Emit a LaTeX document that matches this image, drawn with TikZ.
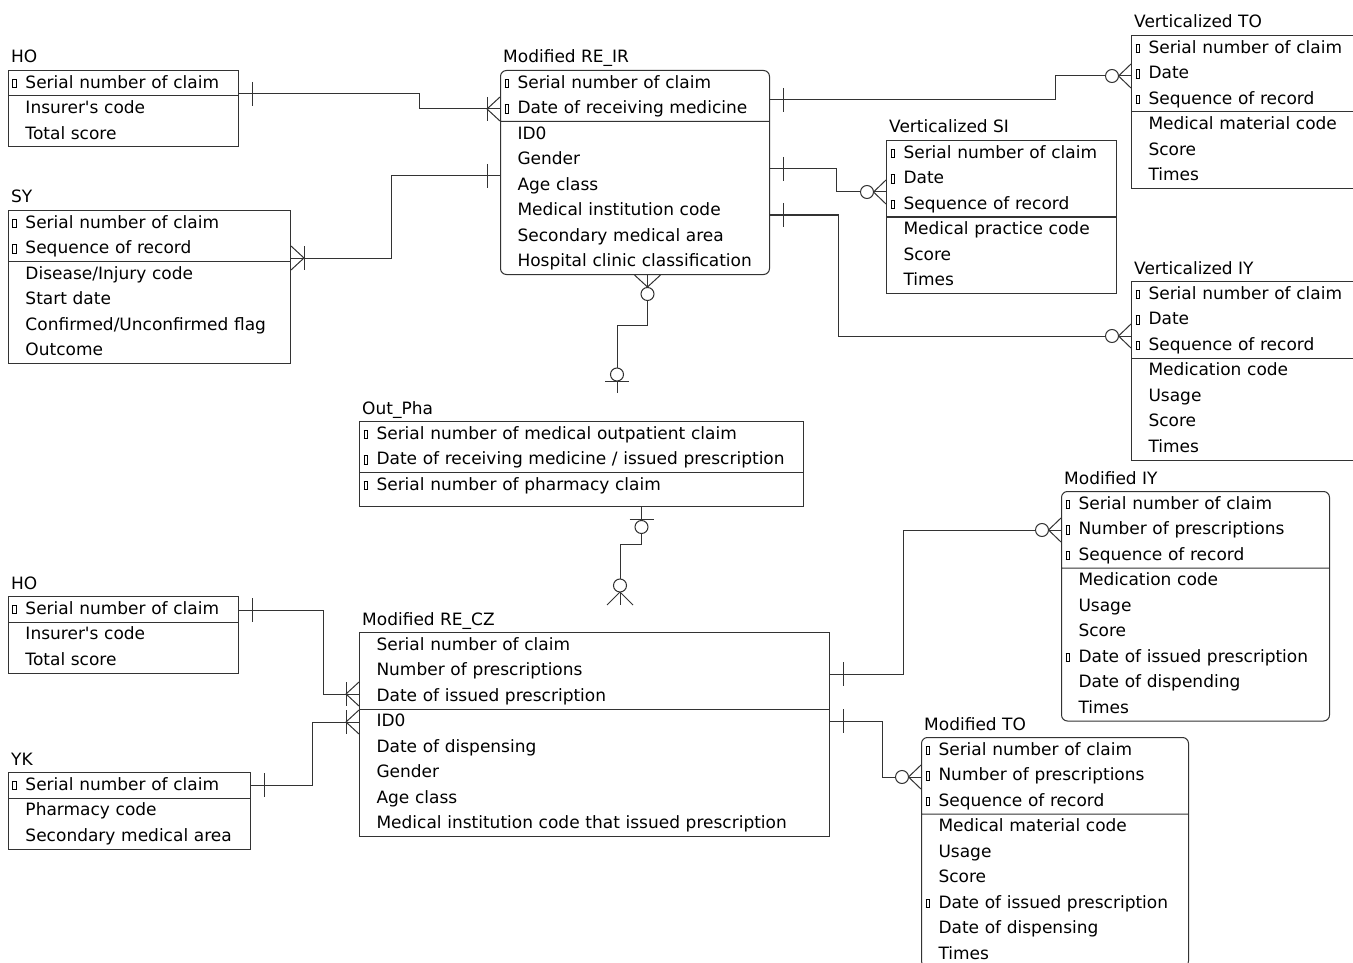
\documentclass[tikz,border=0pt]{standalone}
\usepackage{fontspec}
\setmainfont{DejaVu Sans}[Ligatures=TeXOff]
\usepackage{tikz}
\usetikzlibrary{calc,shapes.multipart}
\newcommand{\linecolor}{black!80}
\newcommand{\barhalf}{12}
\newcommand{\bargap}{13}
\newcommand{\ringsize}{6.5pt}
\newcommand{\entfont}{\fontsize{17}{25.5}\selectfont}
\newcommand{\keybox}{\raisebox{1pt}{\setlength{\fboxsep}{0pt}\setlength{\fboxrule}{0.6pt}\fbox{\rule{0pt}{8pt}\rule{3pt}{0pt}}}}
\newcommand{\pkey}{\strut\makebox[17pt][l]{\hspace*{4pt}\keybox}}
\newcommand{\attr}{\strut\makebox[17pt]{}}
\tikzset{
  entity/.style={draw=\linecolor, line width=1pt, rectangle split, rectangle split parts=2,
    inner xsep=0pt, inner ysep=-0.5pt, anchor=north west, text width=#1, align=left, font=\entfont},
  rentity/.style={entity=#1, rounded corners=6pt},
  title/.style={anchor=base west, inner sep=0pt, font=\entfont},
  conn/.style={draw=\linecolor, line width=1pt}
}

\begin{document}
\begin{tikzpicture}[x=1pt, y=-1pt]
\useasboundingbox (0,0) rectangle (1353,963);
%top half
\node[entity=230pt] (hoA) at (8,70) {\pkey Serial number of claim
  \nodepart{two}\attr Insurer's code\\ \attr Total score};
\node[title] (hoAt) at (11,63) {HO};
\node[entity=282pt] (sy) at (8,210) {\pkey Serial number of claim\\ \pkey Sequence of record
  \nodepart{two}\attr Disease/Injury code\\ \attr Start date\\ \attr Confirmed/Unconfirmed flag\\ \attr Outcome};
\node[title] (syt) at (11,203) {SY};
\node[rentity=269pt] (reir) at (500,70) {\pkey Serial number of claim\\ \pkey Date of receiving medicine
  \nodepart{two}\attr ID0\\ \attr Gender\\ \attr Age class\\ \attr Medical institution code\\ \attr Secondary medical area\\ \attr Hospital clinic classification};
\node[title] (reirt) at (503,63) {Modified RE\_IR};
\node[entity=240pt] (vto) at (1131,35) {\pkey Serial number of claim\\ \pkey Date\\ \pkey Sequence of record
  \nodepart{two}\attr Medical material code\\ \attr Score\\ \attr Times};
\node[title] (vtot) at (1134,28) {Verticalized TO};
\node[entity=230pt] (vsi) at (886,140) {\pkey Serial number of claim\\ \pkey Date\\ \pkey Sequence of record
  \nodepart{two}\attr Medical practice code\\ \attr Score\\ \attr Times};
\node[title] (vsit) at (889,133) {Verticalized SI};
\node[entity=240pt] (viy) at (1131,281) {\pkey Serial number of claim\\ \pkey Date\\ \pkey Sequence of record
  \nodepart{two}\attr Medication code\\ \attr Usage\\ \attr Score\\ \attr Times};
\node[title] (viyt) at (1134,274) {Verticalized IY};
\node[entity=444pt] (outpha) at (359,421) {\pkey Serial number of medical outpatient claim\\ \pkey Date of receiving medicine / issued prescription
  \nodepart{two}\pkey Serial number of pharmacy claim\rule[-16.15pt]{0pt}{16.15pt}};
\node[title] (outphat) at (362,414) {Out\_Pha};
%bottom half
\node[rentity=268pt] (miy) at (1061,491) {\pkey Serial number of claim\\ \pkey Number of prescriptions\\ \pkey Sequence of record
  \nodepart{two}\attr Medication code\\ \attr Usage\\ \attr Score\\ \pkey Date of issued prescription\\ \attr Date of dispending\\ \attr Times};
\node[title] (miyt) at (1064,484) {Modified IY};
\node[rentity=267pt] (mto) at (921,737) {\pkey Serial number of claim\\ \pkey Number of prescriptions\\ \pkey Sequence of record
  \nodepart{two}\attr Medical material code\\ \attr Usage\\ \attr Score\\ \pkey Date of issued prescription\\ \attr Date of dispensing\\ \attr Times};
\node[title] (mtot) at (924,730) {Modified TO};
\node[entity=230pt] (hoB) at (8,596) {\pkey Serial number of claim
  \nodepart{two}\attr Insurer's code\\ \attr Total score};
\node[title] (hoBt) at (11,589) {HO};
\node[entity=242pt] (yk) at (8,772) {\pkey Serial number of claim
  \nodepart{two}\attr Pharmacy code\\ \attr Secondary medical area};
\node[title] (ykt) at (11,765) {YK};
\node[entity=470pt] (recz) at (359,632) {\attr Serial number of claim\\ \attr Number of prescriptions\\ \attr Date of issued prescription
  \nodepart{two}\attr ID0\\ \attr Date of dispensing\\ \attr Gender\\ \attr Age class\\ \attr Medical institution code that issued prescription};
\node[title] (reczt) at (362,625) {Modified RE\_CZ};
%HO - RE_IR
\coordinate (hoAr) at ($(hoA.north east)+(0,24)$);
\coordinate (reirA) at ($(reir.north west)+(0,39)$);
\draw[conn] (hoAr) -- ++(180,0) |- (reirA);
\draw[conn] ($(hoAr)+(\bargap,-\barhalf)$) -- ++(0,2*\barhalf);
\draw[conn] ($(reirA)+(-\bargap,-\barhalf)$) -- ++(0,2*\barhalf);
\draw[conn] ($(reirA)+(0,-\barhalf)$) -- ++(-\bargap,\barhalf) -- ++(\bargap,\barhalf);
%SY - RE_IR
\coordinate (syr) at ($(sy.north east)+(0,48)$);
\coordinate (reirB) at ($(reir.north west)+(0,106)$);
\draw[conn] (syr) -- ++(100,0) |- (reirB);
\draw[conn] ($(syr)+(\bargap,-\barhalf)$) -- ++(0,2*\barhalf);
\draw[conn] ($(syr)+(0,-\barhalf)$) -- ++(\bargap,\barhalf) -- ++(-\bargap,\barhalf);
\draw[conn] ($(reirB)+(-\bargap,-\barhalf)$) -- ++(0,2*\barhalf);
%RE_IR - Verticalized TO
\coordinate (reirC) at ($(reir.north east)+(0,30)$);
\coordinate (vtol) at ($(vto.north west)+(0,41)$);
\draw[conn] (reirC) -- ++(285,0) |- (vtol);
\draw[conn] ($(reirC)+(\bargap,-\barhalf)$) -- ++(0,2*\barhalf);
\draw[conn] ($(vtol)+(0,-\barhalf)$) -- ++(-12.5,\barhalf) -- ++(12.5,\barhalf);
\draw[conn,fill=white] ($(vtol)+(-19,0)$) circle (\ringsize);
%RE_IR - Verticalized SI
\coordinate (reirD) at ($(reir.north east)+(0,99)$);
\coordinate (vsil) at ($(vsi.north west)+(0,52)$);
\draw[conn] (reirD) -- ++(66,0) |- (vsil);
\draw[conn] ($(reirD)+(\bargap,-\barhalf)$) -- ++(0,2*\barhalf);
\draw[conn] ($(vsil)+(0,-\barhalf)$) -- ++(-12.5,\barhalf) -- ++(12.5,\barhalf);
\draw[conn,fill=white] ($(vsil)+(-19,0)$) circle (\ringsize);
%RE_IR - Verticalized IY
\coordinate (reirE) at ($(reir.north east)+(0,145)$);
\coordinate (viyl) at ($(viy.north west)+(0,55)$);
\draw[conn] (reirE) -- ++(68,0) |- (viyl);
\draw[conn] ($(reirE)+(\bargap,-\barhalf)$) -- ++(0,2*\barhalf);
\draw[conn] ($(viyl)+(0,-\barhalf)$) -- ++(-12.5,\barhalf) -- ++(12.5,\barhalf);
\draw[conn,fill=white] ($(viyl)+(-19,0)$) circle (\ringsize);
%RE_IR - Out_Pha
\coordinate (reirF) at ($(reir.south)+(12.5,0)$);
\coordinate (phaT) at (617,393);
\draw[conn] (reirF) -- ++(0,50) -| (phaT);
\draw[conn] ($(reirF)+(-\bargap,0)$) -- ++(\bargap,12) -- ++(\bargap,-12);
\draw[conn,fill=white] ($(reirF)+(0,19)$) circle (\ringsize);
\draw[conn] ($(phaT)+(-\barhalf,-12)$) -- ++(2*\barhalf,0);
\draw[conn,fill=white] ($(phaT)+(0,-18.5)$) circle (\ringsize);
%Out_Pha - RE_CZ
\coordinate (phaB) at ($(outpha.south)+(60,0)$);
\coordinate (reczT) at (620,605);
\draw[conn] (phaB) -- ++(0,37) -| (reczT);
\draw[conn] ($(phaB)+(-\barhalf,12)$) -- ++(2*\barhalf,0);
\draw[conn,fill=white] ($(phaB)+(0,20)$) circle (\ringsize);
\draw[conn] ($(reczT)+(-\bargap,0)$) -- ++(\bargap,-\bargap) -- ++(\bargap,\bargap);
\draw[conn,fill=white] ($(reczT)+(0,-19.5)$) circle (\ringsize);
%HO - RE_CZ
\coordinate (hoBr) at ($(hoB.north east)+(0,14)$);
\coordinate (reczA) at ($(recz.north west)+(0,62)$);
\draw[conn] (hoBr) -- ++(84,0) |- (reczA);
\draw[conn] ($(hoBr)+(\bargap,-\barhalf)$) -- ++(0,2*\barhalf);
\draw[conn] ($(reczA)+(-\bargap,-\barhalf)$) -- ++(0,2*\barhalf);
\draw[conn] ($(reczA)+(0,-\barhalf)$) -- ++(-\bargap,\barhalf) -- ++(\bargap,\barhalf);
%YK - RE_CZ
\coordinate (ykr) at ($(yk.north east)+(0,13)$);
\coordinate (reczB) at ($(recz.north west)+(0,90)$);
\draw[conn] (ykr) -- ++(61,0) |- (reczB);
\draw[conn] ($(ykr)+(\bargap,-\barhalf)$) -- ++(0,2*\barhalf);
\draw[conn] ($(reczB)+(-\bargap,-\barhalf)$) -- ++(0,2*\barhalf);
\draw[conn] ($(reczB)+(0,-\barhalf)$) -- ++(-\bargap,\barhalf) -- ++(\bargap,\barhalf);
%RE_CZ - Modified IY
\coordinate (reczC) at ($(recz.north east)+(0,42)$);
\coordinate (miyl) at ($(miy.north west)+(0,39)$);
\draw[conn] (reczC) -- ++(73,0) |- (miyl);
\draw[conn] ($(reczC)+(\bargap,-\barhalf)$) -- ++(0,2*\barhalf);
\draw[conn] ($(miyl)+(0,-\barhalf)$) -- ++(-12.5,\barhalf) -- ++(12.5,\barhalf);
\draw[conn,fill=white] ($(miyl)+(-19,0)$) circle (\ringsize);
%RE_CZ - Modified TO
\coordinate (reczD) at ($(recz.north east)+(0,89)$);
\coordinate (mtol) at ($(mto.north west)+(0,40)$);
\draw[conn] (reczD) -- ++(52,0) |- (mtol);
\draw[conn] ($(reczD)+(\bargap,-\barhalf)$) -- ++(0,2*\barhalf);
\draw[conn] ($(mtol)+(0,-\barhalf)$) -- ++(-12.5,\barhalf) -- ++(12.5,\barhalf);
\draw[conn,fill=white] ($(mtol)+(-19,0)$) circle (\ringsize);
\end{tikzpicture}
\end{document}
